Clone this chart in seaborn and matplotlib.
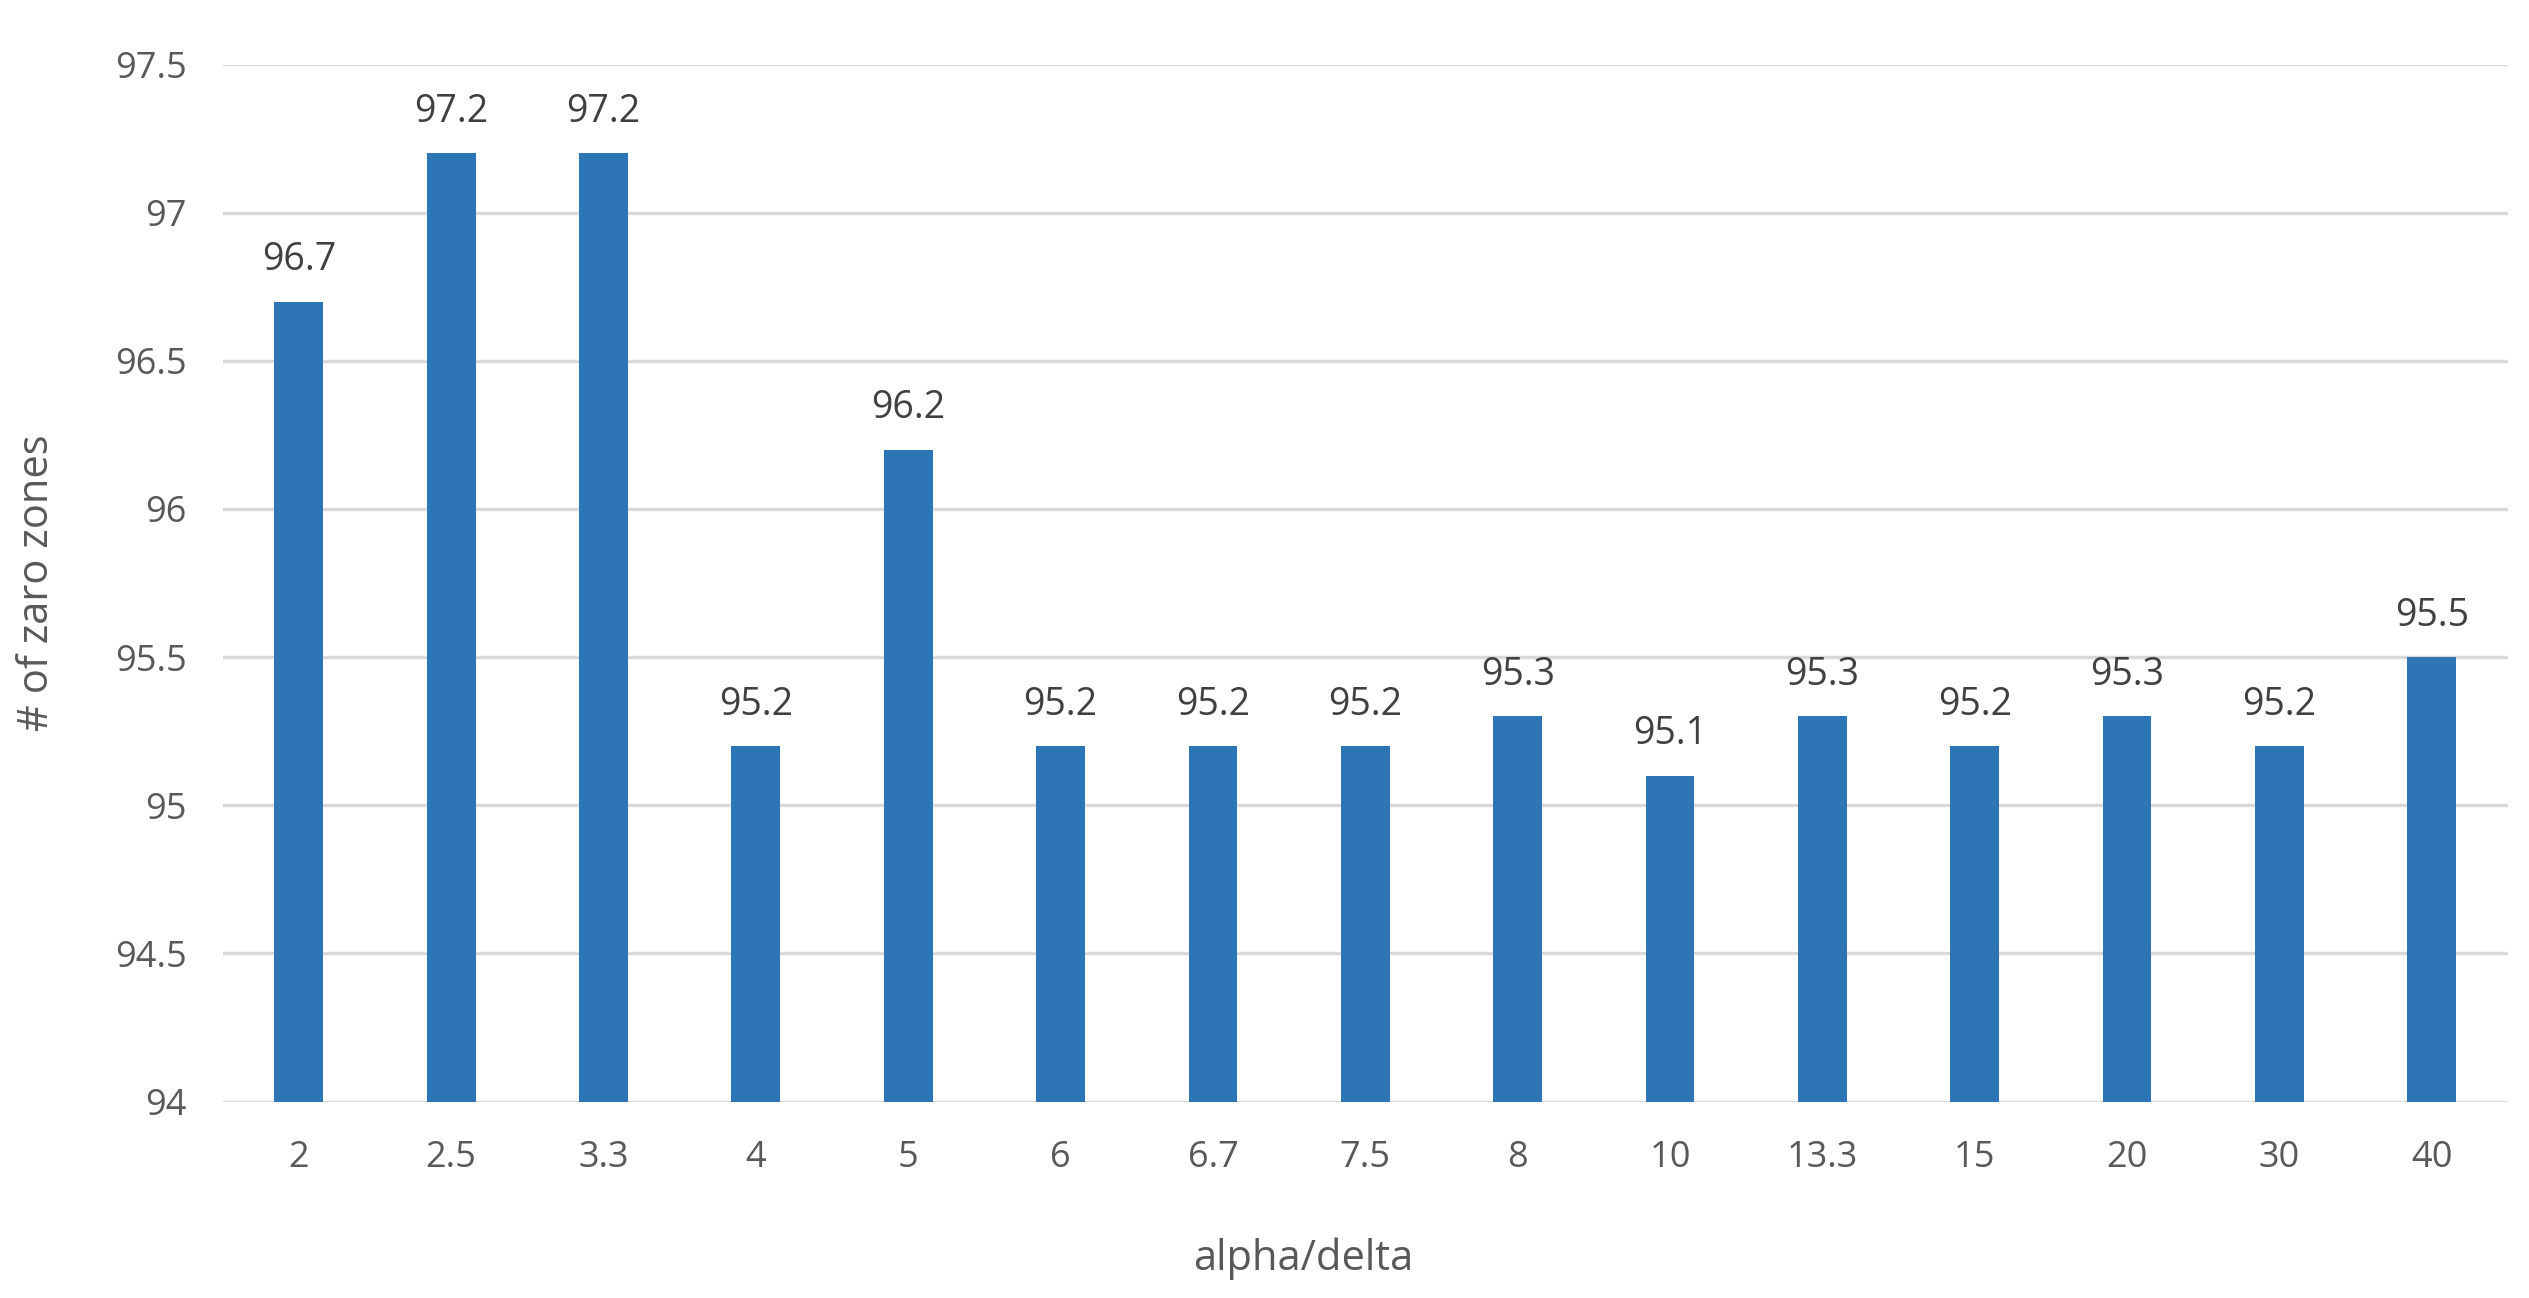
import matplotlib
matplotlib.use("Agg")
import matplotlib.pyplot as plt
import seaborn as sns
import pandas as pd

categories = ["2", "2.5", "3.3", "4", "5", "6", "6.7", "7.5", "8", "10", "13.3", "15", "20", "30", "40"]
values = [96.7, 97.2, 97.2, 95.2, 96.2, 95.2, 95.2, 95.2, 95.3, 95.1, 95.3, 95.2, 95.3, 95.2, 95.5]
y_ticks = [94, 94.5, 95, 95.5, 96, 96.5, 97, 97.5]
y_tick_labels = ["94", "94.5", "95", "95.5", "96", "96.5", "97", "97.5"]

sns.set_theme(style="white")
plt.rcParams['font.family'] = ['Open Sans', 'DejaVu Sans']

df = pd.DataFrame({"cat": categories, "val": values})

fig = plt.figure(figsize=(25.29, 12.98), dpi=100)
ax = fig.add_axes([222.6 / 2529, 1 - 1101.6 / 1298, (2508 - 222.6) / 2529, (1101.6 - 64.5) / 1298])

sns.barplot(data=df, x="cat", y="val", color="#2E75B6", saturation=1, width=0.32, ax=ax, zorder=3)
for p in ax.patches:
    p.set_edgecolor("none")

ax.set_ylim(94, 97.5)
ax.set_xlim(-0.5, len(categories) - 0.5)
ax.set_yticks(y_ticks)
ax.set_yticklabels(y_tick_labels)
ax.yaxis.grid(True, color="#d9d9d9", linewidth=2.4, zorder=0)
ax.set_axisbelow(True)
for s in ax.spines.values():
    s.set_visible(False)

ax.tick_params(axis="y", length=0, pad=26, labelsize=26, labelcolor="#595959")
ax.tick_params(axis="x", length=0, pad=28, labelsize=26, labelcolor="#595959")

for i, v in enumerate(values):
    ax.annotate(f"{v:.1f}", xy=(i, v), xytext=(0, 16), textcoords="offset points",
                ha="center", va="bottom", fontsize=27, color="#404040")

ax.set_xlabel("alpha/delta", fontsize=30, color="#595959")
ax.xaxis.set_label_coords((808 * 2529 / 1568 - 222.6) / (2508 - 222.6), -0.131)
ax.set_ylabel("# of zaro zones", fontsize=30, color="#595959", labelpad=41)

fig.savefig("out.png", dpi=100, facecolor="white")
